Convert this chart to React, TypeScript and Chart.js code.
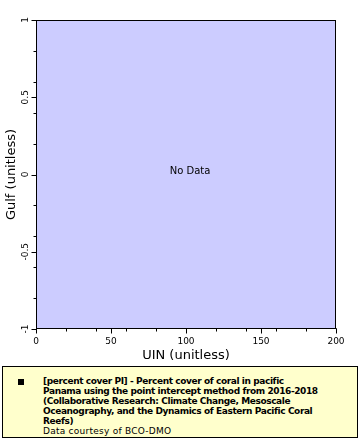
import React, { useEffect, useRef } from "react";
import { Chart, registerables } from "chart.js";

Chart.register(...registerables);

// ---- data ----
const dataPoints: { x: number; y: number }[] = [];
const xRange = [0, 200];
const yRange = [-1, 1];
const xMajorTicks = [0, 50, 100, 150, 200];
const xTickLabels = ["0", "50", "100", "150", "200"];
const yMajorTicks = [-1, -0.5, 0, 0.5, 1];
const yTickLabels = ["-1", "-0.5", "0", "0.5", "1"];
const xMinorStep = 10;
const yMinorStep = 0.1;
const xTitle = "UIN (unitless)";
const yTitle = "Gulf (unitless)";
const noDataText = "No Data";
const legendLines = [
  "[percent cover PI] - Percent cover of coral in pacific",
  "Panama using the point intercept method from 2016-2018",
  "(Collaborative Research: Climate Change, Mesoscale",
  "Oceanography, and the Dynamics of Eastern Pacific Coral",
  "Reefs)",
];
const creditLine = "Data courtesy of BCO-DMO";

const FONT = "'DejaVu Sans', Verdana, sans-serif";

const axesPlugin = {
  id: "erddapAxes",
  beforeDatasetsDraw(chart: any) {
    const { ctx, chartArea: a } = chart;
    ctx.save();
    ctx.fillStyle = "#ccccff";
    ctx.fillRect(a.left, a.top, a.right - a.left, a.bottom - a.top);
    ctx.restore();
  },
  afterDraw(chart: any) {
    const { ctx, chartArea: a } = chart;
    const xs = chart.scales.x;
    const ys = chart.scales.y;
    ctx.save();
    ctx.strokeStyle = "#000";
    ctx.lineWidth = 1;
    ctx.strokeRect(Math.round(a.left) + 0.5, Math.round(a.top) + 0.5, Math.round(a.right - a.left) - 1, Math.round(a.bottom - a.top) - 1);

    const bottom = Math.round(a.bottom) - 0.5;
    const left = Math.round(a.left) + 0.5;
    // minor ticks
    ctx.beginPath();
    xs.ticks.forEach((t: any) => {
      const px = Math.round(xs.getPixelForValue(t.value)) + 0.5;
      ctx.moveTo(px, bottom);
      ctx.lineTo(px, bottom + 3);
    });
    ys.ticks.forEach((t: any) => {
      const py = Math.round(ys.getPixelForValue(t.value)) + 0.5;
      ctx.moveTo(left, py);
      ctx.lineTo(left - 3, py);
    });
    ctx.stroke();
    // major ticks
    ctx.beginPath();
    xMajorTicks.forEach((v) => {
      const px = Math.round(xs.getPixelForValue(v)) + 0.5;
      ctx.moveTo(px, bottom);
      ctx.lineTo(px, bottom + 5);
    });
    yMajorTicks.forEach((v) => {
      const py = Math.round(ys.getPixelForValue(v)) + 0.5;
      ctx.moveTo(left, py);
      ctx.lineTo(left - 5, py);
    });
    ctx.stroke();

    // tick labels
    ctx.fillStyle = "#000";
    ctx.font = `9px ${FONT}`;
    ctx.textAlign = "center";
    ctx.textBaseline = "middle";
    xMajorTicks.forEach((v, i) => {
      ctx.fillText(xTickLabels[i], xs.getPixelForValue(v), a.bottom + 13);
    });
    yMajorTicks.forEach((v, i) => {
      ctx.save();
      ctx.translate(a.left - 10, ys.getPixelForValue(v));
      ctx.rotate(-Math.PI / 2);
      ctx.fillText(yTickLabels[i], 0, 0);
      ctx.restore();
    });

    // axis titles
    ctx.font = `13px ${FONT}`;
    ctx.fillText(xTitle, (a.left + a.right) / 2, a.bottom + 27);
    ctx.save();
    ctx.translate(12, (a.top + a.bottom) / 2);
    ctx.rotate(-Math.PI / 2);
    ctx.fillText(yTitle, 0, 0);
    ctx.restore();

    if (dataPoints.length === 0) {
      ctx.font = `10px ${FONT}`;
      ctx.fillText(noDataText, (a.left + a.right) / 2 + 4, (a.top + a.bottom) / 2 - 3);
    }
    ctx.restore();
  },
};

export default function App() {
  const ref = useRef<HTMLCanvasElement | null>(null);
  useEffect(() => {
    if (!ref.current) return;
    const chart = new Chart(ref.current, {
      type: "scatter",
      data: {
        datasets: [
          {
            label: legendLines.join(" "),
            data: dataPoints,
            backgroundColor: "#000",
            pointRadius: 2,
          },
        ],
      },
      options: {
        animation: false,
        responsive: false,
        maintainAspectRatio: false,
        layout: { padding: { left: 36, right: 24, top: 20, bottom: 33 } },
        plugins: { legend: { display: false }, tooltip: { enabled: false } },
        scales: {
          x: {
            type: "linear",
            display: false,
            min: xRange[0],
            max: xRange[1],
            ticks: { stepSize: xMinorStep },
          },
          y: {
            type: "linear",
            display: false,
            min: yRange[0],
            max: yRange[1],
            ticks: { stepSize: yMinorStep },
          },
        },
      },
      plugins: [axesPlugin],
    });
    return () => chart.destroy();
  }, []);

  return (
    <div style={{ position: "fixed", left: 0, top: 0, width: 360, height: 440, background: "#fff" }}>
      <canvas ref={ref} width={360} height={362} style={{ display: "block", width: 360, height: 362 }} />
      <div
        style={{
          position: "absolute",
          left: 2,
          top: 366,
          width: 354,
          height: 70,
          border: "1px solid #000",
          background: "#ffffcc",
          boxSizing: "content-box",
          fontFamily: FONT,
          color: "#000",
        }}
      >
        <div style={{ position: "absolute", left: 15, top: 12, width: 6, height: 6, background: "#000" }} />
        <div
          style={{
            position: "absolute",
            left: 40,
            top: 9,
            fontSize: 9,
            lineHeight: "10px",
            whiteSpace: "nowrap",
          }}
        >
          {legendLines.map((l, i) => (
            <div key={i} style={{ fontWeight: "bold", letterSpacing: "-0.4px" }}>
              {l}
            </div>
          ))}
          <div style={{ letterSpacing: "0.25px" }}>{creditLine}</div>
        </div>
      </div>
    </div>
  );
}
